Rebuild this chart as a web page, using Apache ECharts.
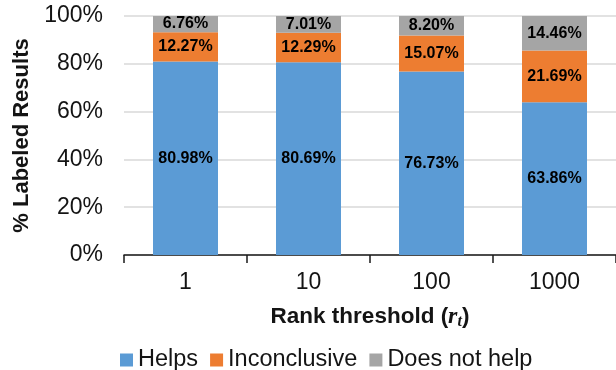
<!DOCTYPE html>
<html>
<head>
<meta charset="utf-8">
<script src="https://cdn.jsdelivr.net/npm/echarts@6/dist/echarts.min.js"></script>
<style>
  html, body { margin: 0; padding: 0; background: #fff; }
  #chart { width: 616px; height: 370px; }
</style>
</head>
<body>
<div id="chart"></div>
<script>
// Rank thresholds on the x axis
const categories = ['1', '10', '100', '1000'];

// Share of labeled results per outcome (%)
const helps = [80.98, 80.69, 76.73, 63.86];
const inconclusive = [12.27, 12.29, 15.07, 21.69];
const doesNotHelp = [6.76, 7.01, 8.20, 14.46];

const seriesNames = ['Helps', 'Inconclusive', 'Does not help'];
const seriesColors = ['#5B9BD5', '#ED7D31', '#A5A5A5'];

const FONT = 'Arial, "Liberation Sans", sans-serif';
const SERIF = '"Liberation Serif", "Times New Roman", serif';
const TEXT = '#141414';

const chart = echarts.init(document.getElementById('chart'), null, { renderer: 'canvas' });

function stackSeries(name, data, color) {
  return {
    name: name,
    type: 'bar',
    stack: 'total',
    data: data,
    barWidth: 65,
    itemStyle: { color: color },
    label: {
      show: true,
      position: 'inside',
      formatter: p => p.value.toFixed(2) + '%',
      fontFamily: FONT,
      fontWeight: 'bold',
      fontSize: 16,
      color: '#000'
    }
  };
}

chart.setOption({
  animation: false,
  grid: { left: 124, top: 16, width: 500, height: 239 },
  legend: {
    left: 115,
    top: 343,
    itemWidth: 13,
    itemHeight: 13,
    itemGap: 12,
    icon: 'rect',
    textStyle: { fontFamily: FONT, fontSize: 23.5, color: TEXT, padding: [0, 0, 0, 0] },
    data: seriesNames
  },
  xAxis: {
    type: 'category',
    data: categories,
    name: 'Rank threshold ({r|r}{t|t})',
    nameLocation: 'middle',
    nameGap: 49,
    nameTextStyle: {
      fontFamily: FONT,
      fontWeight: 'bold',
      fontSize: 22.5,
      color: TEXT,
      rich: {
        r: { fontFamily: SERIF, fontStyle: 'italic', fontWeight: 'bold', fontSize: 24, color: TEXT },
        t: { fontFamily: SERIF, fontStyle: 'italic', fontWeight: 'bold', fontSize: 16, color: TEXT, padding: [10, 0, 0, 0] }
      }
    },
    axisLine: { lineStyle: { color: '#1a1a1a', width: 1.5 } },
    axisTick: { show: true, length: 8, lineStyle: { color: '#1a1a1a', width: 1.5 } },
    axisLabel: { fontFamily: FONT, fontSize: 23, color: TEXT, margin: 16 }
  },
  yAxis: {
    type: 'value',
    min: 0,
    max: 100,
    interval: 20,
    name: '% Labeled Results',
    nameLocation: 'middle',
    nameGap: 88,
    nameTextStyle: { fontFamily: FONT, fontWeight: 'bold', fontSize: 22, color: TEXT },
    axisLine: { show: false },
    axisTick: { show: false },
    splitLine: { lineStyle: { color: '#D9D9D9', width: 1.5 } },
    axisLabel: { fontFamily: FONT, fontSize: 23, color: TEXT, margin: 21, formatter: '{value}%' }
  },
  series: [
    stackSeries(seriesNames[0], helps, seriesColors[0]),
    stackSeries(seriesNames[1], inconclusive, seriesColors[1]),
    stackSeries(seriesNames[2], doesNotHelp, seriesColors[2])
  ]
});
</script>
</body>
</html>
